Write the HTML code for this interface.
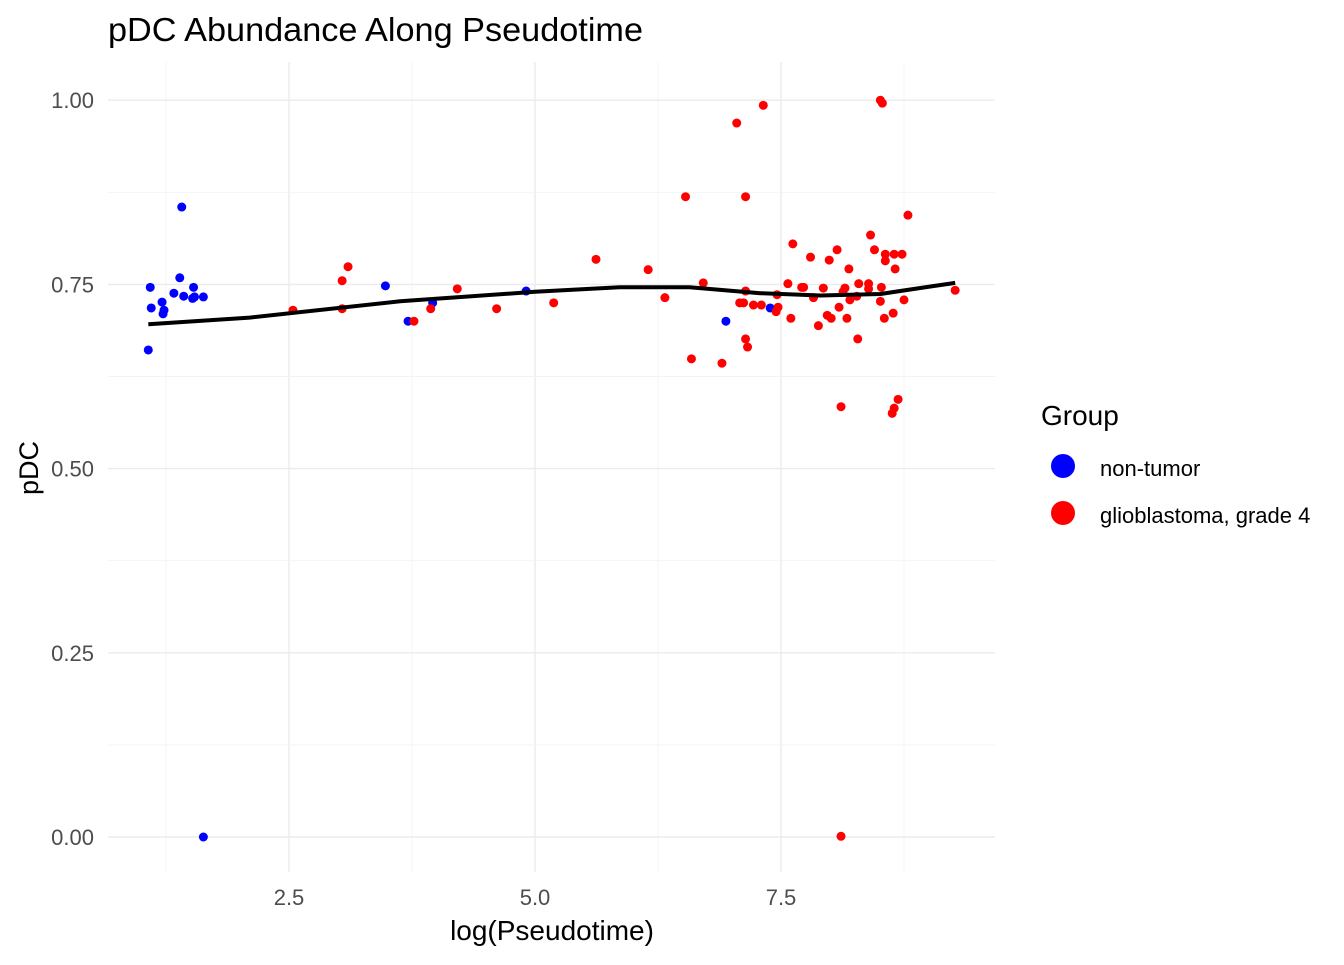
<!DOCTYPE html>
<html><head><meta charset="utf-8"><style>
body{margin:0;background:#fff;}
svg text{font-family:"Liberation Sans",Arial,sans-serif;}
</style></head><body>
<svg id="chart" width="1344" height="960" xmlns="http://www.w3.org/2000/svg">
<rect width="1344" height="960" fill="#fff"/>
<text x="108" y="41" font-size="33" fill="#000" textLength="535" lengthAdjust="spacingAndGlyphs">pDC Abundance Along Pseudotime</text>
<g id="grid"></g>
<g id="ticks"></g>
<g id="marks"></g>
<text x="552" y="940" font-size="28" text-anchor="middle">log(Pseudotime)</text>
<text transform="translate(38,468) rotate(-90)" font-size="27" text-anchor="middle">pDC</text>
<g>
<text x="1041" y="425" font-size="28">Group</text>
<circle cx="1063" cy="466" r="12" fill="#0000ff"/>
<text x="1100" y="476" font-size="22">non-tumor</text>
<circle cx="1063" cy="513" r="12" fill="#ff0000"/>
<text x="1100" y="523" font-size="22">glioblastoma, grade 4</text>
</g>
</svg>
<script>
const xTicks=[2.5,5.0,7.5];
const xTickLabels=["2.5","5.0","7.5"];
const yTicks=[0,0.25,0.5,0.75,1.0];
const yTickLabels=["0.00","0.25","0.50","0.75","1.00"];
const blueX=[1.07,1.09,1.10,1.21,1.23,1.22,1.33,1.39,1.41,1.43,1.52,1.53,1.54,1.63,1.63,3.48,3.71,3.96,4.91,6.94,7.39];
const blueY=[0.661,0.746,0.718,0.726,0.715,0.710,0.738,0.759,0.855,0.734,0.731,0.746,0.733,0.733,0,0.748,0.700,0.725,0.741,0.700,0.718];
const redX=[6.53,7.14,8.79,8.41,7.62,8.07,8.45,8.56,8.65,8.73,7.80,7.99,8.56,8.66,8.19,6.71,7.57,8.29,8.39,7.71,7.73,7.93,8.15,8.52,8.13,8.39,7.14,7.46,9.27,7.83,8.20,8.27,8.51,8.75,7.08,7.12,7.22,7.30,7.47,7.45,8.09,7.60,7.97,8.01,8.17,8.55,8.64,7.88,7.14,7.16,8.28,6.59,6.90,8.11,8.69,8.65,8.63,7.05,7.32,8.51,8.53,8.11,2.54,3.04,3.10,3.04,3.77,3.94,4.21,4.61,5.19,5.62,6.15,6.32];
const redY=[0.869,0.869,0.844,0.817,0.805,0.797,0.797,0.791,0.791,0.791,0.787,0.783,0.782,0.771,0.771,0.752,0.751,0.751,0.751,0.746,0.746,0.745,0.745,0.746,0.740,0.744,0.741,0.736,0.742,0.732,0.729,0.734,0.727,0.729,0.725,0.725,0.722,0.722,0.719,0.713,0.719,0.704,0.708,0.704,0.704,0.704,0.711,0.694,0.676,0.665,0.676,0.649,0.643,0.584,0.594,0.582,0.575,0.969,0.993,1.000,0.996,0.001,0.715,0.755,0.774,0.717,0.700,0.717,0.744,0.717,0.725,0.784,0.770,0.732];
const smoothX=[1.07,2.10,3.63,5.0,5.86,6.57,7.29,7.90,8.51,9.01,9.27];
const smoothY=[0.696,0.705,0.727,0.740,0.746,0.746,0.738,0.735,0.737,0.747,0.752];

const NS="http://www.w3.org/2000/svg";
const PL=108,PR=995,PT=62,PB=872;
function sx(v){return 43+v*98.4;}
function sy(v){return 837-v*736.8;}
function mk(t,a,p){const e=document.createElementNS(NS,t);for(const k in a)e.setAttribute(k,a[k]);p.appendChild(e);return e;}
const grid=document.getElementById('grid'),ticks=document.getElementById('ticks'),marks=document.getElementById('marks');
for(let i=0;i<xTicks.length;i++){
  const X=sx(xTicks[i]);
  const l=mk('line',{x1:X,x2:X,y1:PT,y2:PB,stroke:'#ebebeb','stroke-width':1.4},grid);
  
  
  const m=mk('line',{x1:X-123,x2:X-123,y1:PT,y2:PB,stroke:'#f3f3f3','stroke-width':0.9},grid);
  
  
  const t=mk('text',{x:X,y:905,'font-size':22,fill:'#4d4d4d','text-anchor':'middle'},ticks);
  t.textContent=xTickLabels[i];
  
  
}
{const m=mk('line',{x1:sx(8.75),x2:sx(8.75),y1:PT,y2:PB,stroke:'#f3f3f3','stroke-width':0.9},grid);

}
for(let i=0;i<yTicks.length;i++){
  const Y=sy(yTicks[i]);
  const l=mk('line',{x1:PL,x2:PR,y1:Y,y2:Y,stroke:'#ebebeb','stroke-width':1.4},grid);
  
  
  if(i<yTicks.length-1){const m=mk('line',{x1:PL,x2:PR,y1:sy(yTicks[i]+0.125),y2:sy(yTicks[i]+0.125),stroke:'#f3f3f3','stroke-width':0.9},grid);
  
  }
  const t=mk('text',{x:94,y:Y+8,'font-size':22,fill:'#4d4d4d','text-anchor':'end'},ticks);
  t.textContent=yTickLabels[i];
  
  
}
for(let i=0;i<blueX.length;i++){
  const c=mk('circle',{cx:sx(blueX[i]),cy:sy(blueY[i]),r:4.5,fill:'#0000ff'},marks);
  
  
}
for(let i=0;i<redX.length;i++){
  const c=mk('circle',{cx:sx(redX[i]),cy:sy(redY[i]),r:4.5,fill:'#ff0000'},marks);
  
  
}
let d='';
for(let i=0;i<smoothX.length;i++)d+=(i?'L':'M')+sx(smoothX[i]).toFixed(1)+','+sy(smoothY[i]).toFixed(1);
const p=mk('path',{d:d,fill:'none',stroke:'#000','stroke-width':4,'stroke-linejoin':'round'},marks);


</script>
</body></html>
